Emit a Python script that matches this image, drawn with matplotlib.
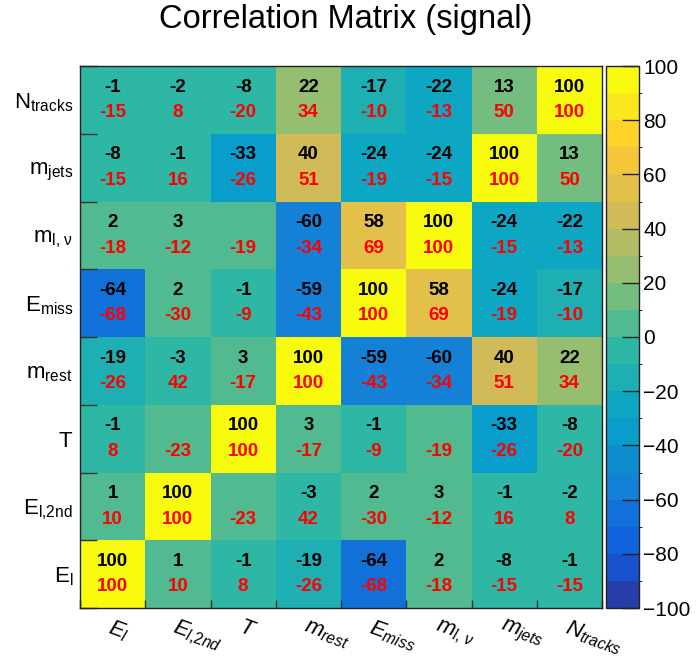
import numpy as np
import matplotlib
matplotlib.use("Agg")
import matplotlib.pyplot as plt
from matplotlib.colors import LinearSegmentedColormap, ListedColormap, BoundaryNorm

plt.rcParams["font.family"] = ["Liberation Sans", "DejaVu Sans"]
plt.rcParams["mathtext.fontset"] = "custom"
plt.rcParams["mathtext.rm"] = "Liberation Sans"
plt.rcParams["mathtext.it"] = "Liberation Sans:italic"
plt.rcParams["mathtext.bf"] = "Liberation Sans:bold"

# variable names, bottom row / left column first
var_names = ["E_{l}", "E_{l{,}2nd}", "T", "m_{rest}", "E_{miss}",
             r"m_{l{,}\ \nu}", "m_{jets}", "N_{tracks}"]
y_labels = [r"$\mathrm{" + v + "}$" for v in var_names]
x_labels = [r"$\mathit{" + v + "}$" for v in var_names]

# correlation coefficients (%) — rows from E_l (bottom) to N_tracks (top)
corr_signal = [
    [100, 1, -1, -19, -64, 2, -8, -1],
    [1, 100, 0, -3, 2, 3, -1, -2],
    [-1, 0, 100, 3, -1, 0, -33, -8],
    [-19, -3, 3, 100, -59, -60, 40, 22],
    [-64, 2, -1, -59, 100, 58, -24, -17],
    [2, 3, 0, -60, 58, 100, -24, -22],
    [-8, -1, -33, 40, -24, -24, 100, 13],
    [-1, -2, -8, 22, -17, -22, 13, 100],
]

corr_other = [
    [100, 10, 8, -26, -68, -18, -15, -15],
    [10, 100, -23, 42, -30, -12, 16, 8],
    [8, -23, 100, -17, -9, -19, -26, -20],
    [-26, 42, -17, 100, -43, -34, 51, 34],
    [-68, -30, -9, -43, 100, 69, -19, -10],
    [-18, -12, -19, -34, 69, 100, -15, -13],
    [-15, 16, -26, 51, -19, -15, 100, 50],
    [-15, 8, -20, 34, -10, -13, 50, 100],
]

levels = np.arange(-100, 101, 10)


def bird_palette(n_levels):
    stops = [0.0, 0.125, 0.25, 0.375, 0.5, 0.625, 0.75, 0.875, 1.0]
    red = [0.2082, 0.0592, 0.0780, 0.0232, 0.1802, 0.5301, 0.8186, 0.9956, 0.9764]
    green = [0.1664, 0.3599, 0.5041, 0.6419, 0.7178, 0.7492, 0.7328, 0.7862, 0.9832]
    blue = [0.5293, 0.8684, 0.8385, 0.7914, 0.6425, 0.4662, 0.3499, 0.1968, 0.0539]
    smooth = LinearSegmentedColormap.from_list(
        "bird", list(zip(stops, zip(red, green, blue))), N=255
    )
    cols = []
    for i in range(n_levels):
        idx = int((i + 0.99) * 255 / n_levels)
        cols.append(smooth(min(idx, 254) / 254))
    return ListedColormap(cols)


W, H = 696, 661
fig = plt.figure(figsize=(W / 100, H / 100), dpi=100)
ax = fig.add_axes([80 / W, (H - 608) / H, 522 / W, 542 / H])
cax = fig.add_axes([606 / W, (H - 608) / H, 33 / W, 542 / H])

cmap = bird_palette(len(levels) - 1)
norm = BoundaryNorm(levels, cmap.N)

n = len(var_names)
data = np.array(corr_signal)
mesh = ax.pcolormesh(np.arange(n + 1), np.arange(n + 1), data, cmap=cmap, norm=norm)

for r in range(n):
    for c in range(n):
        v = corr_signal[r][c]
        if v != 0:
            ax.text(c + 0.5, r + 0.5 + 0.19, f"{v}", ha="center", va="center",
                    fontsize=13.5, fontweight="bold", color="black")
        ax.text(c + 0.5, r + 0.5 - 0.19, f"{corr_other[r][c]}", ha="center",
                va="center", fontsize=13.5, fontweight="bold", color="red")

ax.set_xlim(0, n)
ax.set_ylim(0, n)

centers = np.arange(n) + 0.5
ax.set_xticks(centers)
ax.set_yticks(centers)
ax.set_xticks(np.arange(n + 1), minor=True)
ax.set_yticks(np.arange(n + 1), minor=True)
ax.tick_params(which="major", length=0)
ax.tick_params(axis="y", which="major", pad=5)
ax.tick_params(axis="x", which="major", pad=6)
ax.tick_params(axis="y", which="minor", direction="in", length=12, width=1, color="#333333")
ax.tick_params(axis="x", which="minor", direction="in", length=6, width=1, color="#333333")
ax.set_yticklabels(y_labels, fontsize=16)
ax.set_xticklabels(x_labels, fontsize=16, rotation=-20, ha="left",
                   va="top", rotation_mode="anchor")
for s in ax.spines.values():
    s.set_linewidth(1.0)
    s.set_color("#222222")

fig.text(346 / W, 1 - 28 / H, "Correlation Matrix (signal)", fontsize=23.5,
         ha="center", va="baseline")

cb = fig.colorbar(mesh, cax=cax, ticks=np.arange(-100, 101, 20))
cb.outline.set_linewidth(1.0)
cb.outline.set_edgecolor("#222222")
cax.tick_params(direction="in", length=12, width=1, color="#222222",
                labelsize=15, pad=3)

fig.savefig("out.png", dpi=100)
